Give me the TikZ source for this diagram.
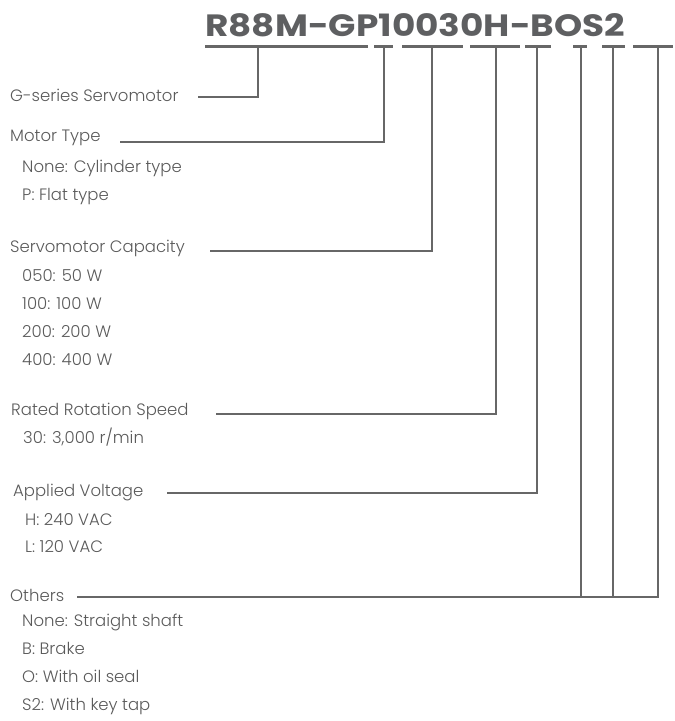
\documentclass[tikz,border=0pt]{standalone}
\usepackage{graphicx}
\usepackage{fontspec}
\setmainfont{Poppins}[UprightFont={* Light}, BoldFont={* Bold}]
\definecolor{txt}{HTML}{5A5A5A}
\definecolor{ln}{HTML}{676767}
\definecolor{ttl}{HTML}{5E5F61}
\begin{document}
\begin{tikzpicture}[x=1pt,y=-1pt,
  head/.style={anchor=base west, inner sep=0pt, font=\fontsize{16.5}{18}\selectfont, text=txt},
  item/.style={head},
  conn/.style={draw=ln, line width=2.5pt},
  seg/.style={draw=ln, line width=3pt}]
\useasboundingbox (0,0) rectangle (675,721);
\node[anchor=base west, inner sep=0pt, text=ttl] (title) at (205,36)
  {\resizebox{420pt}{23pt}{\bfseries R88M-GP10030H-BOS2}};
% segments under the code
\coordinate (s1a) at (205,46.5); \coordinate (s1b) at (368,46.5);
\coordinate (s2a) at (374,46.5); \coordinate (s2b) at (393,46.5);
\coordinate (s3a) at (402,46.5); \coordinate (s3b) at (463,46.5);
\coordinate (s4a) at (470,46.5); \coordinate (s4b) at (520,46.5);
\coordinate (s5a) at (525,46.5); \coordinate (s5b) at (551,46.5);
\coordinate (s6a) at (573,46.5); \coordinate (s6b) at (587,46.5);
\coordinate (s7a) at (602,46.5); \coordinate (s7b) at (625,46.5);
\coordinate (s8a) at (633,46.5); \coordinate (s8b) at (673,46.5);
\coordinate (v1) at (258,46.5);
\coordinate (v2) at (384,46.5);
\coordinate (v3) at (432,46.5);
\coordinate (v4) at (496,46.5);
\coordinate (v5) at (537,46.5);
\coordinate (v6) at (581,46.5);
\coordinate (v7) at (613,46.5);
\coordinate (v8) at (658,46.5);
\foreach \i in {1,...,8} {\draw[seg] (s\i a) -- (s\i b);}
% labels
\node[head] (g) at (10,101) {G-series Servomotor};
\node[head] (mt) at (10,141) {Motor Type};
\node[item] (mt1) at (22,172) {None: Cylinder type};
\node[item] (mt2) at (22,200) {P: Flat type};
\node[head] (sc) at (10,252) {Servomotor Capacity};
\node[item] (sc1) at (22,281) {050: 50 W};
\node[item] (sc2) at (22,309) {100: 100 W};
\node[item] (sc3) at (22,337) {200: 200 W};
\node[item] (sc4) at (22,365) {400: 400 W};
\node[head] (rs) at (11,415) {Rated Rotation Speed};
\node[item] (rs1) at (23,443) {30: 3,000 r/min};
\node[head] (av) at (13,496) {Applied Voltage};
\node[item] (av1) at (25,525) {H: 240 VAC};
\node[item] (av2) at (25,552) {L: 120 VAC};
\node[head] (ot) at (10,601) {Others};
\node[item] (ot1) at (22,626) {None: Straight shaft};
\node[item] (ot2) at (22,654) {B: Brake};
\node[item] (ot3) at (22,682) {O: With oil seal};
\node[item] (ot4) at (22,710) {S2: With key tap};
% line starts
\coordinate (c1) at (198,97);
\coordinate (c2) at (120,142);
\coordinate (c3) at (210,251);
\coordinate (c4) at (216,414);
\coordinate (c5) at (167,493);
\coordinate (c6) at (77,597);
% connectors
\draw[conn] (c1) -| (v1);
\draw[conn] (c2) -| (v2);
\draw[conn] (c3) -| (v3);
\draw[conn] (c4) -| (v4);
\draw[conn] (c5) -| (v5);
\draw[conn] (c6) -| (v8);
\draw[conn] (v6) -- (v6 |- c6);
\draw[conn] (v7) -- (v7 |- c6);
\end{tikzpicture}
\end{document}
